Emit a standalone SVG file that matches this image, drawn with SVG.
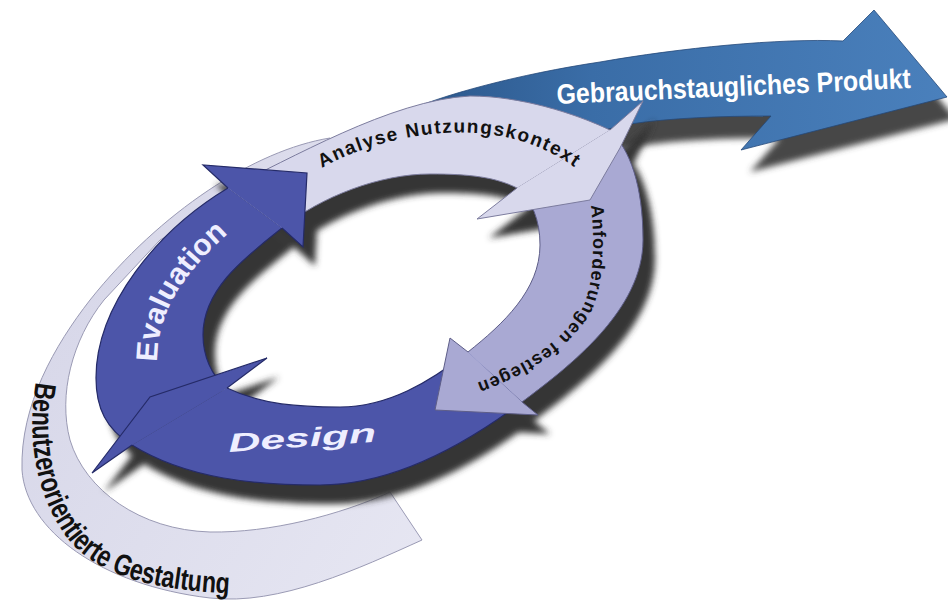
<svg xmlns="http://www.w3.org/2000/svg" width="948" height="607" viewBox="0 0 948 607">
  <defs>
    <filter id="soft" x="-20%" y="-20%" width="140%" height="140%">
      <feGaussianBlur stdDeviation="3"/>
    </filter>
    <linearGradient id="productGrad" x1="400" y1="0" x2="947" y2="0" gradientUnits="userSpaceOnUse">
      <stop offset="0" stop-color="#2a5588"/>
      <stop offset="0.35" stop-color="#3a6da7"/>
      <stop offset="1" stop-color="#4a80bc"/>
    </linearGradient>
    <linearGradient id="bandGrad" x1="0" y1="300" x2="420" y2="560" gradientUnits="userSpaceOnUse">
      <stop offset="0" stop-color="#d6d6e8"/>
      <stop offset="1" stop-color="#e6e6f2"/>
    </linearGradient>

    <!-- ring segment bodies -->
    <path id="body-eval" d="M 132,445 C 106,429 96,408 96,378 C 96,305 158,230 228,188 L 282,228 C 247,256 203,288 203,335 C 203,355 211,376 227,388 Z"/>
    <path id="body-analyse" d="M 228,188 C 290,160 390,100 470,96 C 520,96 574,113 610,130 L 517,188 C 495,177 470,174 430,174 C 380,174 321,196.5 282,228 Z"/>
    <path id="body-req" d="M 610,130 C 630,150 643,185 643,240 C 643,310 570,366 522,402 L 468,352 C 503,324 540,290 540,245 C 540,220 532,200 517,188 Z"/>
    <path id="body-design" d="M 522,402 C 466,444 395,485 320,485 C 255,485 187,479 132,445 L 227,388 C 262,405 300,407 340,407 C 388,407 430,382 468,352 Z"/>

    <!-- arrowheads -->
    <path id="head-eval" d="M 228,188 L 203,165 L 307,173 L 303,247 L 282,228 Z"/>
    <path id="head-analyse" d="M 610,130 L 643,101 L 620,148 L 590,200 L 477,219 L 517,188 Z"/>
    <path id="head-req" d="M 522,402 L 538,415 L 435,410 L 450,338 L 468,352 Z"/>
    <path id="head-design" d="M 132,445 L 92,473 L 150,397 L 267,358 L 227,388 Z"/>

    <!-- outgoing product arrow -->
    <path id="product-shape" d="M 400,114 C 440,95 520,74 600,62 C 680,48 780,38 843,41 L 874,10 L 947,97 L 741,150 L 771,116 C 720,116 670,118 630,124 L 560,140 L 420,140 Z"/>

    <!-- text baselines -->
    <path id="path-analyse" d="M 322,168 C 370,140 500,100 588,178"/>
    <path id="path-req" d="M 591,205 C 596,255 592,292 580,312 C 555,348 515,370 470,385"/>
    <path id="path-eval" d="M 157,362 C 157,320 175,280 230,232"/>
    <path id="path-ucd" d="M 36,382 C 26,440 36,502 73,545 C 108,580 160,590 235,594"/>
  </defs>

  <style>
    .seg-light { fill: #d8d8ec; }
    .seg-mid { fill: #a9a9d3; }
    .seg-blue { fill: #4c55a9; }
    .edge-light { fill: none; stroke: #7c7c9e; stroke-width: 1; }
    .edge-mid { fill: none; stroke: #5e5e88; stroke-width: 1; }
    .edge-blue { fill: none; stroke: #252b68; stroke-width: 1.2; }
    .shade { fill: #363636; }
    .txt { font-family: "Liberation Sans", Arial, sans-serif; font-weight: bold; }
  </style>

  <!-- user-centred design band sweeping round the cycle -->
  <g id="ucd-band">
    <path d="M 330,138 C 255,150 160,212 90,300 C 55,345 20,405 22,470 C 26,530 100,585 210,598 C 279,606 360,568 422,540 L 390,492 C 340,515 270,533 210,532 C 140,530 85,490 70,440 C 58,395 72,340 104,300 L 160,240 L 240,195 L 330,150 Z" fill="url(#bandGrad)" stroke="#9a9ab4" stroke-width="1"/>
    <text class="txt" font-size="30" fill="#111"><textPath href="#path-ucd" textLength="340" lengthAdjust="spacingAndGlyphs">Benutzerorientierte Gestaltung</textPath></text>
  </g>

  <!-- product arrow leaving the cycle -->
  <g id="product">
    <use href="#product-shape" transform="translate(9,22)" fill="#474747" filter="url(#soft)"/>
    <use href="#product-shape" fill="url(#productGrad)" stroke="#24497a" stroke-width="0.8"/>
    <text class="txt" x="0" y="0" font-size="28" fill="#fff" transform="translate(557 104) rotate(-2.6) scale(0.89 1)">Gebrauchstaugliches Produkt</text>
  </g>

  <!-- drop shadow under the cycle -->
  <g id="cycle-shadow" class="shade" transform="translate(12,19)" filter="url(#soft)">
    <use href="#body-eval"/>
    <use href="#body-analyse"/>
    <use href="#body-req"/>
    <use href="#body-design"/>
    <use href="#head-eval"/>
    <use href="#head-analyse"/>
    <use href="#head-req"/>
    <use href="#head-design"/>
  </g>

  <!-- cycle segment bodies -->
  <g id="connectors">
    <use href="#body-analyse" class="seg-light"/>
    <use href="#body-req" class="seg-mid"/>
    <use href="#body-design" class="seg-blue"/>
    <use href="#body-eval" class="seg-blue"/>
    <path class="edge-light" d="M 228,188 C 290,160 390,100 470,96 C 520,96 574,113 610,130"/>
    <path class="edge-light" d="M 517,188 C 495,177 470,174 430,174 C 380,174 321,196.5 282,228"/>
    <path class="edge-mid" d="M 610,130 C 630,150 643,185 643,240 C 643,310 570,366 522,402"/>
    <path class="edge-mid" d="M 468,352 C 503,324 540,290 540,245 C 540,220 532,200 517,188"/>
    <path class="edge-blue" d="M 522,402 C 466,444 395,485 320,485 C 255,485 187,479 132,445"/>
    <path class="edge-blue" d="M 227,388 C 262,405 300,407 340,407 C 388,407 430,382 468,352"/>
    <path class="edge-blue" d="M 132,445 C 106,429 96,408 96,378 C 96,305 158,230 228,188"/>
    <path class="edge-blue" d="M 282,228 C 247,256 203,288 203,335 C 203,355 211,376 227,388"/>
  </g>

  <!-- arrowheads on top of the following segment -->
  <g id="arrowheads">
    <use href="#head-analyse" class="seg-light"/>
    <path class="edge-light" d="M 610,130 L 643,101 L 620,148 L 590,200 L 477,219 L 517,188"/>
    <use href="#head-req" class="seg-mid"/>
    <path class="edge-mid" d="M 522,402 L 538,415 L 435,410 L 450,338 L 468,352"/>
    <use href="#head-design" class="seg-blue"/>
    <path class="edge-blue" d="M 132,445 L 92,473 L 150,397 L 267,358 L 227,388"/>
    <use href="#head-eval" class="seg-blue"/>
    <path class="edge-blue" d="M 228,188 L 203,165 L 307,173 L 303,247 L 282,228"/>
  </g>

  <g id="analyse">
    <text class="txt" font-size="19" letter-spacing="1.5" fill="#111"><textPath href="#path-analyse">Analyse Nutzungskontext</textPath></text>
  </g>
  <g id="requirements">
    <text class="txt" font-size="18" letter-spacing="1" fill="#111"><textPath href="#path-req">Anforderungen festlegen</textPath></text>
  </g>
  <g id="design">
    <text class="txt" x="229" y="452" font-size="26" font-style="italic" fill="#eef" textLength="148" lengthAdjust="spacingAndGlyphs" transform="rotate(-4 229 452)">Design</text>
  </g>
  <g id="evaluation">
    <text class="txt" font-size="30" fill="#eef"><textPath href="#path-eval">Evaluation</textPath></text>
  </g>
</svg>
